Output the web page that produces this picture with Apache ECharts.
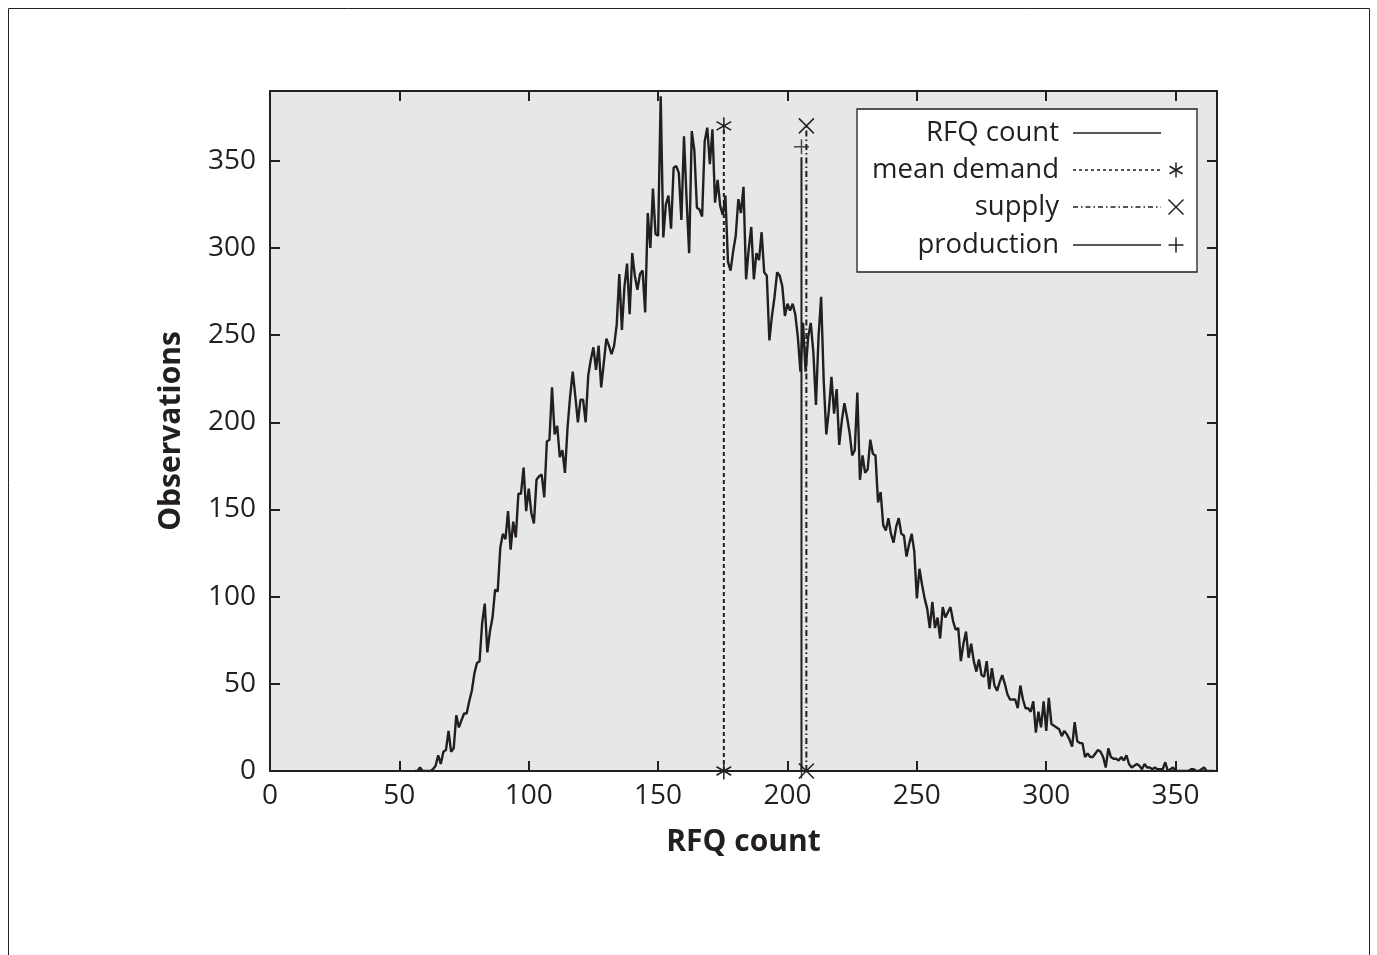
<!DOCTYPE html>
<html>
<head>
<meta charset="utf-8">
<script src="https://cdn.jsdelivr.net/npm/echarts@6/dist/echarts.min.js"></script>
<style>
  html, body { margin: 0; padding: 0; background: #ffffff; }
  #chart { width: 1377px; height: 955px; }
</style>
</head>
<body>
<div id="chart"></div>
<script>
// ---- data ----
const xStart = 56; // first RFQ count bin
const counts = [
  0, 0, 2, 0, 0, 0, 0, 1, 3, 9,            // 56-65
  4, 11, 12, 23, 11, 13, 32, 25, 29, 33,   // 66-75
  33, 40, 46, 56, 62, 63, 85, 96, 68, 80,  // 76-85
  88, 104, 103, 128, 136, 133, 149, 127, 143, 134, // 86-95
  159, 159, 174, 149, 162, 148, 142, 167, 169, 170, // 96-105
  157, 189, 190, 220, 193, 198, 180, 184, 171, 197, // 106-115
  215, 229, 215, 200, 213, 213, 200, 227, 236, 243, // 116-125
  230, 244, 220, 234, 248, 244, 239, 244, 256, 285, // 126-135
  253, 278, 291, 262, 297, 284, 276, 285, 287, 263, // 136-145
  320, 300, 334, 308, 307, 387, 306, 325, 330, 311, // 146-155
  346, 347, 343, 316, 364, 328, 297, 367, 356, 323, // 156-165
  322, 318, 361, 369, 348, 368, 326, 339, 324, 319, // 166-175
  330, 292, 287, 298, 307, 328, 320, 335, 282, 299, // 176-185
  312, 282, 297, 293, 309, 286, 284, 247, 261, 272, // 186-195
  286, 284, 278, 261, 268, 264, 268, 262, 249, 229, // 196-205
  257, 229, 249, 257, 240, 210, 249, 272, 224, 193, // 206-215
  207, 226, 205, 219, 187, 201, 211, 203, 194, 181, // 216-225
  184, 217, 167, 181, 171, 173, 190, 182, 181, 154, // 226-235
  160, 141, 138, 145, 136, 131, 140, 145, 136, 135, // 236-245
  123, 130, 136, 126, 99, 116, 107, 99, 93, 82,     // 246-255
  97, 82, 88, 76, 94, 88, 91, 94, 86, 81,           // 256-265
  82, 63, 73, 80, 65, 73, 63, 57, 64, 55,           // 266-275
  54, 63, 47, 59, 49, 46, 51, 55, 50, 44,           // 276-285
  41, 41, 41, 36, 49, 41, 36, 36, 34, 40,           // 286-295
  22, 34, 25, 40, 23, 42, 27, 26, 25, 24,           // 296-305
  20, 23, 21, 18, 14, 28, 17, 16, 16, 8,            // 306-315
  10, 8, 8, 10, 12, 11, 8, 2, 13, 8,                // 316-325
  7, 7, 6, 8, 6, 9, 4, 2, 3, 4,                     // 326-335
  3, 1, 4, 2, 2, 1, 2, 1, 1, 1,                     // 336-345
  5, 0, 1, 2, 0, 0, 0, 0, 0, 0,                     // 346-355
  1, 1, 0, 0, 1, 2, 0, 0, 0, 0                      // 356-365
];
const meanDemand = 175.4;
const meanDemandTop = 370;
const supply = 207.3;
const supplyTop = 370;
const production = 205.4;
const productionTop = 352;
const productionMarkerY = 358;

const xMin = 0, xMax = 366, xStep = 50;
const yMin = 0, yMax = 390, yStep = 50;

const legendLabels = ['RFQ count', 'mean demand', 'supply', 'production'];
const xTitle = 'RFQ count';
const yTitle = 'Observations';

// ---- style ----
const INK = '#231f20';
const FONT = '"Open Sans", "DejaVu Sans", sans-serif';

const ASTERISK = 'path://M5,0L5,10M0.67,2.5L9.33,7.5M0.67,7.5L9.33,2.5';
const CROSS = 'path://M0,0L10,10M10,0L0,10';
const PLUS = 'path://M5,0L5,10M0,5L10,5';

const curveData = counts.map((c, i) => [xStart + i, c]);

const markerStyle = { color: 'rgba(0,0,0,0)', borderColor: INK, borderWidth: 1.5 };

function baseAxis(extra) {
  return Object.assign({
    type: 'value',
    axisLine: { show: true, onZero: false, lineStyle: { color: INK, width: 2 } },
    axisTick: { show: true, inside: true, length: 10, lineStyle: { color: INK, width: 2 } },
    splitLine: { show: false }
  }, extra);
}

const labelFmt = v => (v % 50 === 0 ? String(v) : '');

const option = {
  animation: false,
  backgroundColor: '#ffffff',
  textStyle: { fontFamily: FONT, color: INK },
  grid: {
    left: 270, right: 160, top: 91, bottom: 184,
    show: true, backgroundColor: '#e6e7e8', borderWidth: 0
  },
  xAxis: [
    baseAxis({
      position: 'bottom', min: xMin, max: xMax, interval: xStep,
      name: xTitle, nameLocation: 'middle', nameGap: 56,
      nameTextStyle: { fontFamily: FONT, fontSize: 30, fontWeight: 'bold', color: INK },
      axisLabel: { fontFamily: FONT, fontSize: 28, color: INK, margin: 11, formatter: labelFmt }
    }),
    baseAxis({
      position: 'top', min: xMin, max: xMax, interval: xStep,
      axisLabel: { show: false }
    })
  ],
  yAxis: [
    baseAxis({
      position: 'left', min: yMin, max: yMax, interval: yStep,
      name: yTitle, nameLocation: 'middle', nameGap: 84, nameRotate: 90,
      nameTextStyle: { fontFamily: FONT, fontSize: 30, fontWeight: 'bold', color: INK },
      axisLabel: { fontFamily: FONT, fontSize: 28, color: INK, margin: 14, formatter: labelFmt }
    }),
    baseAxis({
      position: 'right', min: yMin, max: yMax, interval: yStep,
      axisLabel: { show: false }
    })
  ],
  series: [
    {
      name: legendLabels[0], type: 'line', data: curveData,
      symbol: 'none', lineStyle: { color: INK, width: 2.4 }, z: 3
    },
    {
      name: legendLabels[1], type: 'line',
      data: [[meanDemand, 0], [meanDemand, meanDemandTop]],
      symbol: ASTERISK, symbolSize: 17, symbolKeepAspect: true, showSymbol: true,
      itemStyle: markerStyle,
      lineStyle: { color: INK, width: 2, type: [4, 3] }, z: 4
    },
    {
      name: legendLabels[2], type: 'line',
      data: [[supply, 0], [supply, supplyTop]],
      symbol: CROSS, symbolSize: 15, showSymbol: true,
      itemStyle: markerStyle,
      lineStyle: { color: INK, width: 2, type: [6, 3, 1.5, 3] }, z: 4
    },
    {
      name: legendLabels[3], type: 'line',
      data: [[production, 0], [production, productionTop]],
      symbol: 'none',
      lineStyle: { color: INK, width: 2 }, z: 4
    },
    {
      name: legendLabels[3] + ' marker', type: 'scatter',
      data: [[production, 0], [production, productionMarkerY]],
      symbol: PLUS, symbolSize: 15,
      itemStyle: markerStyle, z: 5
    }
  ],
  graphic: buildLegend()
};

function markerShapes(kind, cx, cy, r) {
  const ls = { stroke: INK, lineWidth: 1.5 };
  const L = (x1, y1, x2, y2) => ({ type: 'line', shape: { x1, y1, x2, y2 }, style: ls, silent: true });
  if (kind === 'asterisk') {
    const dx = r * 0.866, dy = r * 0.5;
    return [L(cx, cy - r, cx, cy + r), L(cx - dx, cy - dy, cx + dx, cy + dy), L(cx - dx, cy + dy, cx + dx, cy - dy)];
  }
  if (kind === 'cross') return [L(cx - r, cy - r, cx + r, cy + r), L(cx - r, cy + r, cx + r, cy - r)];
  if (kind === 'plus') return [L(cx, cy - r, cx, cy + r), L(cx - r, cy, cx + r, cy)];
  return [];
}

function buildLegend() {
  const boxL = 857, boxT = 109, boxW = 340, boxH = 163;
  const textRight = 1059, lineX1 = 1073, lineX2 = 1161, markX = 1176;
  const rows = [133, 170, 207, 245];
  const dashes = [null, [3, 3], [5, 3, 1.5, 3], null];
  const marks = [null, 'asterisk', 'cross', 'plus'];
  const els = [{
    type: 'rect', shape: { x: boxL, y: boxT, width: boxW, height: boxH },
    style: { fill: '#ffffff', stroke: INK, lineWidth: 1.3 }, z: 10
  }];
  rows.forEach((y, i) => {
    els.push({
      type: 'text', z: 11,
      style: { text: legendLabels[i], x: textRight, y: y, textAlign: 'right', textVerticalAlign: 'middle',
               fontFamily: FONT, fontSize: 27.5, fill: INK }
    });
    els.push({
      type: 'line', z: 11,
      shape: { x1: lineX1, y1: y, x2: lineX2, y2: y },
      style: { stroke: INK, lineWidth: 1.6, lineDash: dashes[i] || null }
    });
    if (marks[i]) {
      markerShapes(marks[i], markX, y, 7.5).forEach(m => { m.z = 11; els.push(m); });
    }
  });
  // outer page frame
  els.push({
    type: 'rect', shape: { x: 8.5, y: 8.5, width: 1361, height: 960 },
    style: { fill: 'none', stroke: INK, lineWidth: 1 }, z: 0
  });
  return els;
}

const chart = echarts.init(document.getElementById('chart'), null, { renderer: 'canvas' });
chart.setOption(option);
</script>
</body>
</html>
